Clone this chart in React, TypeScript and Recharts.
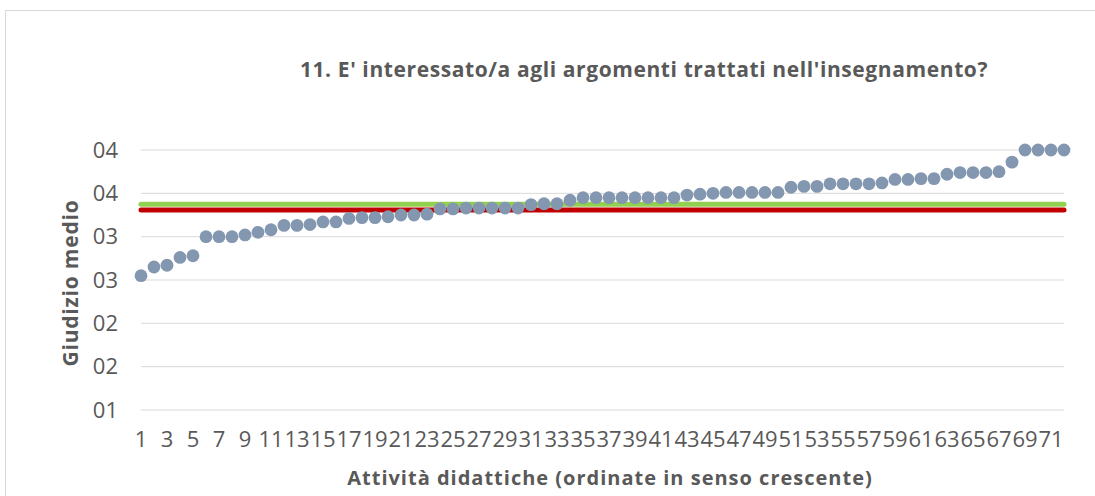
import { ComposedChart, Line, XAxis, YAxis, CartesianGrid, ReferenceLine } from 'recharts'

// activities, sorted by mean rating
const categories = [
  1, 2, 3, 4, 5, 6, 7, 8, 9, 10, 11, 12, 13, 14, 15, 16, 17, 18,
  19, 20, 21, 22, 23, 24, 25, 26, 27, 28, 29, 30, 31, 32, 33, 34, 35, 36,
  37, 38, 39, 40, 41, 42, 43, 44, 45, 46, 47, 48, 49, 50, 51, 52, 53, 54,
  55, 56, 57, 58, 59, 60, 61, 62, 63, 64, 65, 66, 67, 68, 69, 70, 71, 72,
]

const giudizio = [
  2.55, 2.65, 2.67, 2.76, 2.78, 3.0, 3.0, 3.0, 3.02, 3.05, 3.08, 3.13, 3.13, 3.14, 3.17, 3.17, 3.21, 3.22,
  3.22, 3.23, 3.25, 3.25, 3.26, 3.32, 3.32, 3.33, 3.33, 3.33, 3.33, 3.33, 3.37, 3.38, 3.38, 3.42, 3.45, 3.45,
  3.45, 3.45, 3.45, 3.45, 3.45, 3.45, 3.48, 3.49, 3.5, 3.51, 3.51, 3.51, 3.51, 3.51, 3.57, 3.58, 3.58, 3.61,
  3.61, 3.61, 3.61, 3.62, 3.66, 3.66, 3.67, 3.67, 3.72, 3.74, 3.74, 3.74, 3.75, 3.86, 4.0, 4.0, 4.0, 4.0,
]

const yTicks = [1, 1.5, 2, 2.5, 3, 3.5, 4]

const mediaVerde = 3.373
const mediaRossa = 3.308

const data = categories.map((c, i) => ({ attivita: c, giudizio: giudizio[i] }))

const FONT = '"Open Sans", sans-serif'
const TEXT = '#595959'

export default function App() {
  return (
    <div style={{ position: 'absolute', left: 0, top: 0, width: 1095, height: 496, overflow: 'hidden', background: '#fff' }}>
      <div style={{ position: 'absolute', left: 5, top: 10, width: 1200, height: 600, border: '1px solid #D9D9D9' }} />
      <div style={{ position: 'absolute', left: 0, top: 0 }}>
        <ComposedChart width={1095} height={496} data={data} margin={{ top: 150, right: 31, bottom: 0, left: 0 }}>
          <text x={644} y={77} textAnchor="middle" fontFamily={FONT} fontSize={21} fontWeight={700} letterSpacing={0.6} fill={TEXT}>
            11. E' interessato/a agli argomenti trattati nell'insegnamento?
          </text>
          <CartesianGrid vertical={false} stroke="#D9D9D9" />
          <XAxis
            dataKey="attivita"
            interval={1}
            tickSize={0}
            tickMargin={21}
            axisLine={false}
            height={86}
            tick={{ fill: TEXT, fontSize: 22, fontFamily: FONT }}
            label={{
              content: () => (
                <text x={610} y={485} textAnchor="middle" fontFamily={FONT} fontSize={20} fontWeight={700} letterSpacing={1} fill={TEXT}>
                  Attività didattiche (ordinate in senso crescente)
                </text>
              ),
            }}
          />
          <YAxis
            type="number"
            domain={[1, 4]}
            ticks={yTicks}
            width={141}
            tickSize={0}
            tickMargin={23}
            axisLine={false}
            tick={{ fill: TEXT, fontSize: 22, fontFamily: FONT }}
            tickFormatter={(v: number) => String(Math.round(v)).padStart(2, '0')}
            label={{
              content: () => (
                <text
                  x={78}
                  y={283}
                  transform="rotate(-90 78 283)"
                  textAnchor="middle"
                  fontFamily={FONT}
                  fontSize={21}
                  fontWeight={700}
                  letterSpacing={0.8}
                  fill={TEXT}
                >
                  Giudizio medio
                </text>
              ),
            }}
          />
          <ReferenceLine
            segment={[{ x: 1, y: mediaVerde }, { x: 72, y: mediaVerde }]}
            stroke="#92D050"
            strokeWidth={5}
            strokeLinecap="round"
          />
          <ReferenceLine
            segment={[{ x: 1, y: mediaRossa }, { x: 72, y: mediaRossa }]}
            stroke="#C00000"
            strokeWidth={5}
            strokeLinecap="round"
          />
          <Line
            dataKey="giudizio"
            stroke="none"
            dot={{ r: 6.4, fill: '#8497B0', stroke: 'none' }}
            activeDot={false}
            isAnimationActive={false}
          />
        </ComposedChart>
      </div>
    </div>
  )
}
